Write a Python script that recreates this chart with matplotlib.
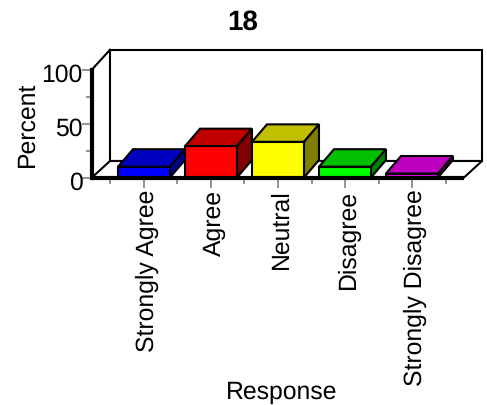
import matplotlib
matplotlib.use('Agg')
import matplotlib.pyplot as plt
from matplotlib.patches import Polygon
from matplotlib.transforms import ScaledTranslation

plt.rcParams['font.family'] = ['Liberation Sans', 'DejaVu Sans']
plt.rcParams['text.hinting'] = 'none'

categories = ['Strongly Agree', 'Agree', 'Neutral', 'Disagree', 'Strongly Disagree']
values = [10, 29, 33, 10, 3.7]
front_colors = ['#0000ff', '#ff0000', '#ffff00', '#00ff00', '#ff00ff']
top_colors = ['#0000c0', '#c00000', '#c0c000', '#00c000', '#c000c0']
side_colors = ['#000090', '#800000', '#808000', '#008000', '#800080']

W, H = 487, 406
fig = plt.figure(figsize=(W / 100, H / 100), dpi=100)
# front plane of the box, in pixels: x 92-464, y 70.5-178.5
ax = fig.add_axes([92 / W, 1 - 178.5 / H, 372 / W, 108 / H])
ax.set_xlim(-0.776, 4.776)
ax.set_ylim(0, 100)
for s in ax.spines.values():
    s.set_visible(False)
ax.patch.set_visible(False)

# depth of the box and the bars in data units
dx = 18 / 67
dy = 16.5 / 1.08
bar_dx = 15 / 67
bar_dy = 17.5 / 1.08
bar_w = 52 / 67
x0, x1 = ax.get_xlim()


def poly(pts, fc, lw=1.5, z=2):
    ax.add_patch(Polygon(pts, closed=True, fc=fc, ec='black', lw=lw, zorder=z,
                         clip_on=False, joinstyle='miter'))


# back wall and floor
poly([(x0 + dx, dy), (x1 + dx, dy), (x1 + dx, 100 + dy + 3), (x0 + dx, 100 + dy + 3)], 'white')
poly([(x0, 0), (x1, 0), (x1 + dx, dy), (x0 + dx, dy)], 'white')
ax.plot([x0, x0 + dx], [100, 100 + dy + 3], color='black', lw=1.5, clip_on=False, zorder=2)

# bars
for i, v in enumerate(values):
    l = i - bar_w / 2
    r = i + bar_w / 2
    poly([(l, v), (r, v), (r + bar_dx, v + bar_dy), (l + bar_dx, v + bar_dy)], top_colors[i], z=3)
    poly([(r, 0), (r + bar_dx, bar_dy), (r + bar_dx, v + bar_dy), (r, v)], side_colors[i], z=3)
    poly([(l, 0), (r, 0), (r, v), (l, v)], front_colors[i], z=4)

# thick front axes
ax.plot([x0, x0], [0, 100], color='black', lw=3, clip_on=False, zorder=5, solid_capstyle='projecting')
ax.plot([x0, x1], [0, 0], color='black', lw=3, clip_on=False, zorder=5, solid_capstyle='butt')

ax.set_yticks([0, 50, 100])
ax.set_yticks([25, 75], minor=True)
ax.set_xticks(range(len(categories)))
ax.set_xticklabels(categories, rotation=90)
ax.set_xticks([i - 0.5 for i in range(len(categories) + 1)], minor=True)
ax.tick_params(axis='both', which='major', length=7.5, width=1.2, color='#808080',
               labelsize=17.8, pad=0.5, labelcolor='black')
ax.tick_params(axis='both', which='minor', length=4.5, width=1.2, color='#808080')

# labels sit a little off the ticks in the original
for lab in ax.get_xticklabels():
    lab.set_transform(lab.get_transform() + ScaledTranslation(3 / 100, 0, fig.dpi_scale_trans))
for lab in ax.get_yticklabels():
    lab.set_transform(lab.get_transform() + ScaledTranslation(2 / 100, -2 / 100, fig.dpi_scale_trans))

fig.text(243 / W, 1 - 22 / H, '18', ha='center', va='center', fontsize=20, fontweight='bold')
fig.text(282 / W, 1 - 392 / H, 'Response', ha='center', va='center', fontsize=17.8)
fig.text(27 / W, 1 - 124 / H, 'Percent', ha='center', va='center', rotation=90, fontsize=17.8)

fig.savefig('out.png', dpi=100)
